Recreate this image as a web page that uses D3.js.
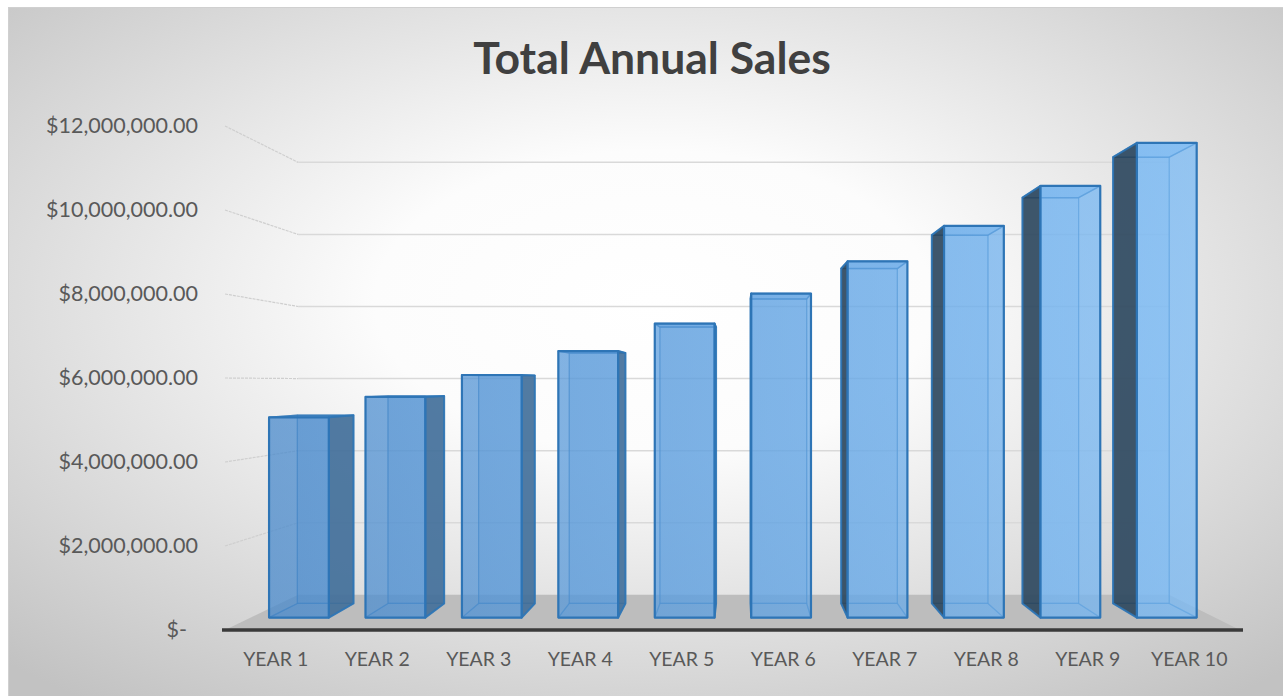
<!DOCTYPE html>
<html>
<head>
<meta charset="utf-8">
<script src="https://cdn.jsdelivr.net/npm/d3@7"></script>
<style>
    body { margin: 0; background: #fff; }
    svg { display: block; font-family: Lato, "Open Sans", sans-serif; }
</style>
</head>
<body>
<svg id="chart" width="1283" height="696"></svg>
<script>
// chart data
var years = ["YEAR 1", "YEAR 2", "YEAR 3", "YEAR 4", "YEAR 5", "YEAR 6", "YEAR 7", "YEAR 8", "YEAR 9", "YEAR 10"];
var sales = [5020000, 5530000, 6080000, 6680000, 7370000, 8120000, 8930000, 9820000, 10820000, 11900000];
var yTicks = [0, 2000000, 4000000, 6000000, 8000000, 10000000, 12000000];
var title = "Total Annual Sales";

var svg = d3.select("svg#chart");
var defs = svg.append("defs");

// Perspective setup: front plane coords get pulled toward the vanishing point
var vp = {x: 740, y: 382};
var kWall = 0.858;   // back wall
var kFront = 0.95;   // front of the bars
var kBack = 0.893;   // back of the bars

var plot = {left: 225, right: 1240, top: 126, bottom: 630};

function proj(X, Y, k) {
    return [vp.x + k * (X - vp.x), vp.y + k * (Y - vp.y)];
}

function poly(pts) {
    return "M" + pts.map(function(p) { return p[0] + "," + p[1]; }).join("L") + "Z";
}

var x = d3.scaleBand()
    .domain(years)
    .range([plot.left, plot.right])
    .paddingInner(0.38)
    .paddingOuter(0.19);

var y = d3.scaleLinear()
    .domain([0, 12000000])
    .range([plot.bottom, plot.top]);

/**
 * Background of the chart area.
 */
var bg = defs.append("radialGradient")
    .attr("id", "bgGrad")
    .attr("cx", 0.5).attr("cy", 0.42).attr("r", 0.72);
bg.append("stop").attr("offset", 0).attr("stop-color", "#ffffff");
bg.append("stop").attr("offset", 0.3).attr("stop-color", "#fcfcfc");
bg.append("stop").attr("offset", 1).attr("stop-color", "#c2c2c2");

var barGrad = defs.append("linearGradient")
    .attr("id", "barGrad")
    .attr("gradientUnits", "userSpaceOnUse")
    .attr("x1", plot.left).attr("x2", plot.right)
    .attr("y1", 0).attr("y2", 0);
barGrad.append("stop").attr("offset", 0).attr("stop-color", "#4586c9");
barGrad.append("stop").attr("offset", 1).attr("stop-color", "#7cbdf8");

svg.append("rect")
    .attr("x", 8.5).attr("y", 7.5)
    .attr("width", 1290).attr("height", 700)
    .attr("fill", "url(#bgGrad)")
    .attr("stroke", "#d0d0d0");

// Title
svg.append("text")
    .attr("x", 652)
    .attr("y", 74)
    .attr("text-anchor", "middle")
    .style("font-size", "44.5px")
    .style("font-weight", "bold")
    .style("fill", "#404040")
    .text(title);

// Gridlines: left wall segment + back wall segment
var grid = svg.append("g").attr("class", "grid");
yTicks.filter(function(v) { return v > 0; }).forEach(function(v) {
    var Y = y(v);
    var a = [plot.left, Y];
    var b = proj(plot.left, Y, kWall);
    var c = proj(plot.right, Y, kWall);
    grid.append("line")
        .attr("x1", a[0]).attr("y1", a[1]).attr("x2", b[0]).attr("y2", b[1])
        .attr("stroke", "#cfcfcf").attr("stroke-width", 1.2)
        .attr("stroke-dasharray", "3,1");
    grid.append("line")
        .attr("x1", b[0]).attr("y1", b[1]).attr("x2", c[0]).attr("y2", c[1])
        .attr("stroke", "#d9d9d9").attr("stroke-width", 1.5);
});

// Floor
var floorPts = [
    [plot.left, plot.bottom],
    [plot.right, plot.bottom],
    proj(plot.right, plot.bottom, kWall),
    proj(plot.left, plot.bottom, kWall)
];
svg.append("path")
    .attr("d", poly(floorPts))
    .attr("fill", "#bdbdbd");
svg.append("line")
    .attr("x1", plot.left - 3).attr("x2", plot.right + 3)
    .attr("y1", plot.bottom).attr("y2", plot.bottom)
    .attr("stroke", "#3a3a3a").attr("stroke-width", 3.5);

// Bars
var bars = svg.append("g").attr("class", "bars");
years.forEach(function(yr, i) {
    var X0 = x(yr), X1 = X0 + x.bandwidth();
    var Yt = y(sales[i]), Yb = y(0);
    var g = bars.append("g");

    var back = [proj(X0, Yt, kBack), proj(X1, Yt, kBack), proj(X1, Yb, kBack), proj(X0, Yb, kBack)];
    var bottom = [proj(X0, Yb, kFront), proj(X1, Yb, kFront), proj(X1, Yb, kBack), proj(X0, Yb, kBack)];
    var left = [proj(X0, Yt, kFront), proj(X0, Yt, kBack), proj(X0, Yb, kBack), proj(X0, Yb, kFront)];
    var right = [proj(X1, Yt, kFront), proj(X1, Yt, kBack), proj(X1, Yb, kBack), proj(X1, Yb, kFront)];
    var top = [proj(X0, Yt, kFront), proj(X1, Yt, kFront), proj(X1, Yt, kBack), proj(X0, Yt, kBack)];
    var front = [proj(X0, Yt, kFront), proj(X1, Yt, kFront), proj(X1, Yb, kFront), proj(X0, Yb, kFront)];

    var side = null, hidden = null, sideColor;
    if (X1 < vp.x) { side = right; hidden = left; sideColor = "#416c95"; }
    else if (X0 > vp.x) { side = left; hidden = right; sideColor = "#283f54"; }

    function face(pts, fill, op, sw, sop) {
        g.append("path")
            .attr("d", poly(pts))
            .attr("fill", fill)
            .attr("fill-opacity", op)
            .attr("stroke", "#2e75b6")
            .attr("stroke-width", sw)
            .attr("stroke-opacity", sop)
            .attr("stroke-linejoin", "round");
    }

    face(back, "url(#barGrad)", 0.45, 1.2, 0.5);
    face(bottom, "url(#barGrad)", 0.35, 1.2, 0.5);
    if (hidden) face(hidden, "url(#barGrad)", 0.25, 1.2, 0.4);
    face(top, "url(#barGrad)", 0.6, 1.5, 0.8);
    if (side) face(side, sideColor, 0.85, 2, 0.9);
    face(front, "url(#barGrad)", 0.66, 2.2, 1);
});

// Y axis (front-left edge)
var fmt = d3.format("$,.2f");
var yAxis = svg.append("g")
    .attr("transform", "translate(198,0)")
    .call(d3.axisLeft(y)
        .tickValues(yTicks)
        .tickSize(0)
        .tickPadding(0)
        .tickFormat(function(v) { return v === 0 ? "$-" : fmt(v); }));
yAxis.select(".domain").remove();
yAxis.selectAll("text")
    .style("font-family", "Lato, 'Open Sans', sans-serif")
    .style("font-size", "21.5px")
    .style("fill", "#595959")
    .attr("dx", function(v) { return v === 0 ? -11 : 0; });

// X axis labels
var xAxis = svg.append("g")
    .attr("transform", "translate(0,652)")
    .call(d3.axisBottom(x).tickSize(0).tickPadding(0));
xAxis.select(".domain").remove();
xAxis.selectAll("text")
    .style("font-family", "Lato, 'Open Sans', sans-serif")
    .style("font-size", "19.5px")
    .style("fill", "#595959");
</script>
</body>
</html>
